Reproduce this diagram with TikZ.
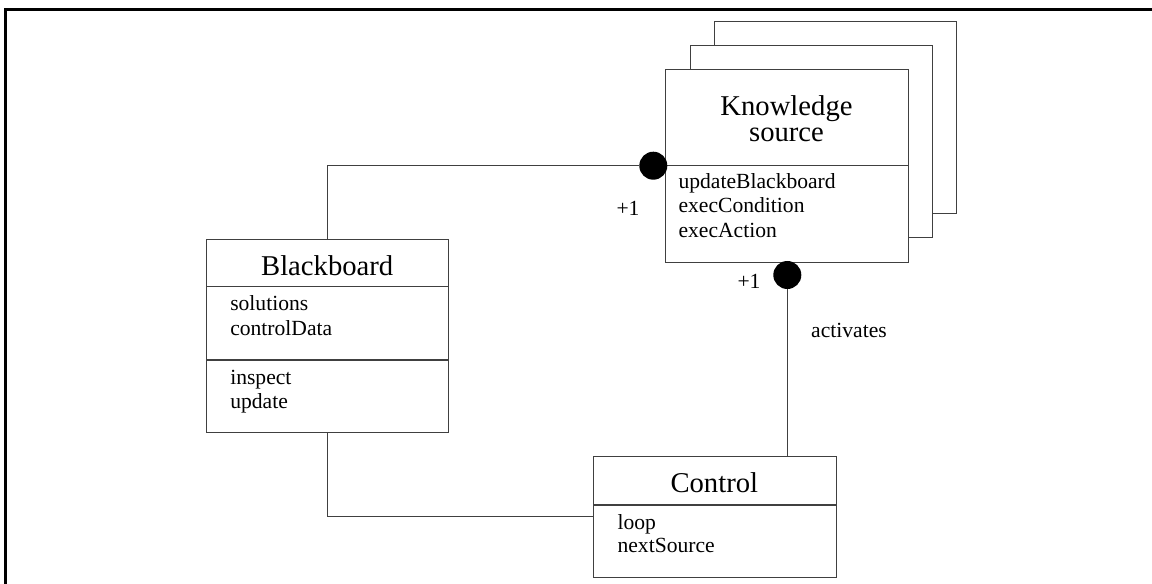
\documentclass[tikz,border=0pt]{standalone}
\usepackage{fontspec}
\setmainfont{Liberation Serif}
\begin{document}
\begin{tikzpicture}[x=0.75pt,y=-0.75pt,
  umlbox/.style={draw=black!75, line width=0.8pt, fill=white, rectangle,
    inner sep=0pt, anchor=north west, minimum width=181.8pt},
  divider/.style={draw=black!75, line width=0.8pt},
  wire/.style={draw=black!75, line width=0.8pt},
  frame/.style={draw=black, line width=2.1pt},
  ttl/.style={font=\fontsize{21.5}{24}\selectfont, inner sep=0pt, anchor=base},
  item/.style={font=\fontsize{16.2}{18.4}\selectfont, inner sep=0pt, anchor=base west},
  lbl/.style={font=\fontsize{16.2}{18.4}\selectfont, inner sep=0pt},
  dot/.style={circle, fill=black, draw=none, minimum size=21pt, inner sep=0pt}]

\useasboundingbox (0,0) rectangle (1152,584);

% outer frame (top and left edges)
\draw[frame] (5.3,584) -- (5.3,9.7) -- (1152,9.7);

% ---- Knowledge source: stacked instances ----
\node[umlbox, minimum height=144.3pt] (ks3) at (714,20.7) {};
\node[umlbox, minimum height=144.3pt] (ks2) at (689.6,45) {};
\node[umlbox, minimum height=144.3pt] (ks)  at (665.3,69.3) {};
\draw[divider] (ks.west |- 0,165.7) -- (ks.east |- 0,165.7);
\node[ttl] (kst1) at (786.5,116) {Knowledge};
\node[ttl] (kst2) at (786.5,142) {source};
\node[item] (ks1) at (678.3,188.5) {updateBlackboard};
\node[item] (ks2i) at (678.3,213) {execCondition};
\node[item] (ks3i) at (678.3,237.5) {execAction};

% ---- Blackboard ----
\node[umlbox, minimum height=144.5pt] (bb) at (206,239) {};
\draw[divider] (bb.west |- 0,286.7) -- (bb.east |- 0,286.7);
\draw[divider] (bb.west |- 0,360) -- (bb.east |- 0,360);
\node[ttl] (bbt) at (327.2,275.5) {Blackboard};
\node[item] (bb1) at (230,311) {solutions};
\node[item] (bb2) at (230,335) {controlData};
\node[item] (bb3) at (230,384.5) {inspect};
\node[item] (bb4) at (230,408) {update};

% ---- Control ----
\node[umlbox, minimum height=90.5pt] (ctl) at (593.3,456) {};
\draw[divider] (ctl.west |- 0,505) -- (ctl.east |- 0,505);
\node[ttl] (ctlt) at (714.3,492.5) {Control};
\node[item] (ctl1) at (617.3,529) {loop};
\node[item] (ctl2) at (617.3,552.5) {nextSource};

% ---- association ends ----
\node[dot] (dotL) at (653.3,165.7) {};
\node[dot] (dotB) at (787.3,275) {};
\node[lbl] (mL) at (628,208) {+1};
\node[lbl] (mB) at (749,281.5) {+1};
\node[lbl] (act) at (849,330) {activates};

% ---- connectors ----
\draw[wire] (bb.north) |- (dotL);
\draw[wire] (dotB) -- (dotB |- ctl.north);
\draw[wire] (bb.south) |- (ctl.west);

\end{tikzpicture}
\end{document}
